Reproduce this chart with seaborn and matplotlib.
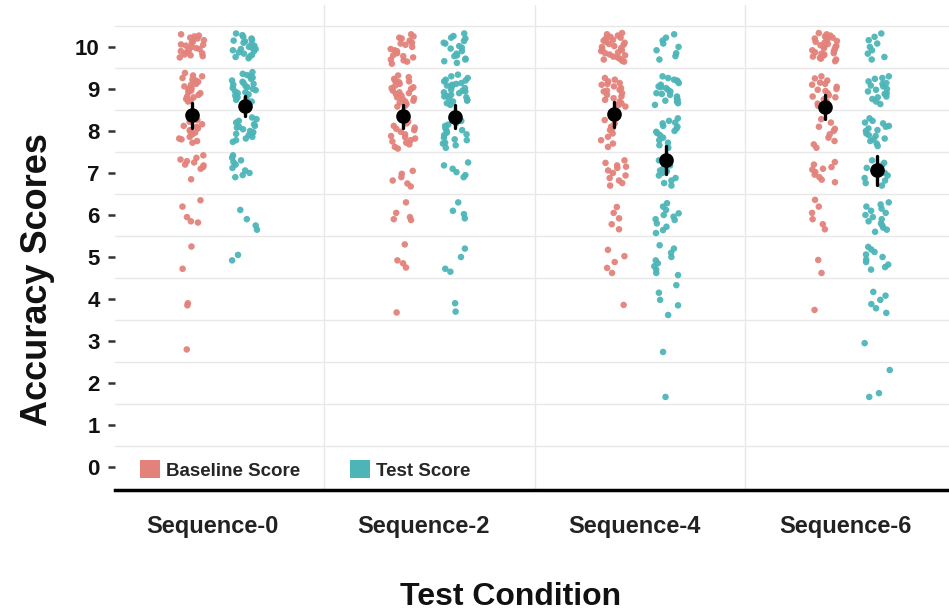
import numpy as np
import pandas as pd
import seaborn as sns
import matplotlib.pyplot as plt
from matplotlib.patches import Patch

conditions = ["Sequence-0", "Sequence-2", "Sequence-4", "Sequence-6"]
groups = ["Baseline Score", "Test Score"]
group_colors = ["#E3827B", "#4DB5B8"]
y_ticks = [0, 1, 2, 3, 4, 5, 6, 7, 8, 9, 10]

# accuracy scores per participant, one list per condition and score type
seq0_baseline = [10.3, 10.27, 10.22, 10.2, 10.16, 10.12, 10.1, 10.06, 10.03, 10.0, 9.97, 9.95,
                 9.92, 9.9, 9.87, 9.85, 9.82, 9.8, 9.78, 9.75, 10.25, 10.05,
                 9.38, 9.32, 9.3, 9.26, 9.22, 9.17, 9.12, 9.1, 9.06, 9.02, 9.0, 8.96, 8.92, 8.9,
                 8.86, 8.82, 8.8, 8.76, 8.72, 8.7, 9.2, 8.95,
                 8.32, 8.26, 8.22, 8.16, 8.12, 8.06, 8.02, 8.0, 7.96, 7.92, 7.86, 7.82, 7.8, 7.76,
                 7.72, 8.1,
                 7.42, 7.36, 7.32, 7.28, 7.25, 7.2, 7.18, 7.14, 7.1, 6.85,
                 6.35, 6.2, 5.95, 5.85, 5.82,
                 5.25, 4.72, 3.9, 3.85, 2.8]
seq0_test = [10.32, 10.28, 10.24, 10.2, 10.17, 10.13, 10.1, 10.07, 10.03, 10.0, 9.98, 9.95,
             9.92, 9.9, 9.87, 9.84, 9.81, 9.78, 9.76, 9.73, 10.15, 9.95,
             9.4, 9.36, 9.33, 9.3, 9.27, 9.24, 9.2, 9.17, 9.14, 9.1, 9.07, 9.04, 9.0, 8.97,
             8.94, 8.9, 8.87, 8.84, 8.8, 8.77, 8.74, 8.7, 9.12, 9.02, 8.92,
             8.32, 8.28, 8.24, 8.2, 8.16, 8.12, 8.08, 8.04, 8.0, 7.97, 7.93, 7.9, 7.86, 7.82,
             7.78, 7.74, 8.1, 7.95,
             7.42, 7.36, 7.3, 7.26, 7.2, 7.12, 7.06, 7.0, 6.95, 6.9,
             6.12, 5.9, 5.75, 5.65, 5.05, 4.92]
seq2_baseline = [10.3, 10.25, 10.2, 10.15, 10.1, 10.05, 10.0, 9.95, 9.9, 9.85, 9.8, 9.75,
                 9.7, 9.65, 9.6, 10.22, 10.08, 9.92, 9.78, 9.68,
                 9.32, 9.28, 9.24, 9.2, 9.16, 9.12, 9.08, 9.04, 9.0, 8.96, 8.92, 8.88, 8.84,
                 8.8, 8.76, 8.72, 8.68, 8.64, 8.6, 9.18, 9.02, 8.9, 8.78, 8.7, 8.58,
                 8.28, 8.22, 8.18, 8.12, 8.08, 8.02, 7.98, 7.92, 7.88, 7.82, 7.78, 7.72, 7.68,
                 7.62, 7.58, 8.05, 7.85, 7.75,
                 7.05, 6.98, 6.9, 6.82, 6.75, 6.68,
                 6.3, 6.05, 5.95, 5.9, 5.88,
                 5.3, 4.92, 4.85, 4.75, 3.68]
seq2_test = [10.32, 10.26, 10.2, 10.14, 10.08, 10.02, 9.96, 9.9, 9.84, 9.78, 9.72, 9.66,
             9.62, 10.22, 10.1, 9.98, 9.8, 9.7,
             9.34, 9.3, 9.26, 9.22, 9.18, 9.14, 9.1, 9.06, 9.02, 8.98, 8.94, 8.9, 8.86,
             8.82, 8.78, 8.74, 8.7, 8.66, 8.62, 9.2, 9.08, 8.96, 8.84, 8.72, 9.12, 8.92, 8.8,
             8.3, 8.24, 8.18, 8.12, 8.06, 8.0, 7.96, 7.9, 7.84, 7.78, 7.72, 7.66, 7.6,
             8.15, 8.02, 7.92, 7.8, 7.7,
             7.25, 7.18, 7.1, 7.02, 6.95, 6.9,
             6.3, 6.1, 6.02, 5.92,
             5.2, 5.0, 4.72, 4.65,
             3.9, 3.7]
seq4_baseline = [10.33, 10.3, 10.27, 10.24, 10.22, 10.2, 10.17, 10.15, 10.12, 10.1, 10.07,
                 10.05, 10.02, 10.0, 9.97, 9.95, 9.92, 9.9, 9.87, 9.85, 9.82, 9.8, 9.77,
                 9.75, 9.72, 9.7, 9.67, 9.65,
                 9.26, 9.22, 9.18, 9.14, 9.1, 9.06, 9.02, 8.98, 8.94, 8.9, 8.86, 8.82, 8.78,
                 8.74, 8.7, 8.66, 8.62, 8.58, 9.12, 8.96,
                 8.26, 8.18, 8.1, 8.02, 7.94, 7.86, 7.78, 7.7, 7.62, 8.06,
                 7.3, 7.24, 7.18, 7.12, 7.06, 7.0, 6.94, 6.88, 6.82, 6.76, 6.7, 7.15,
                 6.19, 6.05, 5.92, 5.78, 5.66,
                 5.17, 5.02, 4.88, 4.74, 4.62,
                 3.86]
seq4_test = [10.3, 10.22, 10.15, 10.08, 10.0, 9.92, 9.85, 9.78, 9.7,
             9.3, 9.26, 9.22, 9.18, 9.14, 9.1, 9.06, 9.02, 8.98, 8.94, 8.9, 8.86, 8.82,
             8.78, 8.74, 8.7, 8.66, 8.62, 9.2, 9.04, 8.88, 8.72,
             8.3, 8.24, 8.18, 8.12, 8.06, 8.0, 7.95, 7.9, 7.84, 7.78, 7.72, 7.66, 7.6, 8.1,
             8.2, 7.98,
             7.3, 7.24, 7.18, 7.12, 7.06, 7.0, 6.94, 6.88, 6.82, 6.76, 6.7, 7.04,
             6.28, 6.2, 6.12, 6.04, 5.96, 5.88, 5.8, 5.72, 5.64, 5.57, 6.0, 5.9,
             5.28, 5.2, 5.1, 5.0, 4.92, 4.85, 4.78, 4.7, 4.62, 4.57,
             4.33, 4.15, 3.98, 3.85, 3.62,
             2.74, 1.67]
seq6_baseline = [10.33, 10.3, 10.27, 10.25, 10.22, 10.2, 10.17, 10.14, 10.12, 10.1, 10.07,
                 10.04, 10.02, 10.0, 9.97, 9.94, 9.92, 9.9, 9.87, 9.84, 9.82, 9.8, 9.77,
                 9.74, 9.72, 9.7, 9.66, 10.18, 10.0, 9.85,
                 9.3, 9.25, 9.2, 9.15, 9.1, 9.05, 9.0, 8.95, 8.9, 8.85, 8.8, 8.75, 8.7,
                 8.65, 8.6, 9.12, 8.98, 8.82,
                 8.28, 8.2, 8.1, 8.0, 7.92, 7.84, 7.76, 7.68, 7.6, 8.05,
                 7.26, 7.2, 7.14, 7.08, 7.02, 6.96, 6.9, 6.84, 6.78, 7.1,
                 6.36, 6.2, 6.05, 5.9, 5.78, 5.66,
                 4.93, 4.62,
                 3.74]
seq6_test = [10.32, 10.24, 10.16, 10.08, 10.0, 9.92, 9.84, 9.76, 9.7,
             9.3, 9.24, 9.18, 9.12, 9.06, 9.0, 8.94, 8.88, 8.82, 8.76, 8.7, 8.64, 9.08, 8.9,
             9.26, 9.14, 8.98, 8.8,
             8.3, 8.24, 8.18, 8.12, 8.06, 8.0, 7.94, 7.88, 7.82, 7.76, 7.7, 7.64, 8.1, 7.9,
             8.2, 8.02, 7.8,
             7.3, 7.24, 7.18, 7.12, 7.06, 7.0, 6.94, 6.88, 6.82, 6.76, 6.7, 7.08,
             6.3, 6.25, 6.2, 6.15, 6.1, 6.05, 6.0, 5.95, 5.9, 5.85, 5.8, 5.75, 5.7, 5.65, 5.6,
             5.24, 5.18, 5.12, 5.06, 5.0, 4.94, 4.88, 4.82, 4.76, 4.7,
             4.17, 4.08, 3.98, 3.88, 3.78, 3.67,
             2.95, 2.31, 1.76, 1.67]

scores = {
    ("Sequence-0", "Baseline Score"): seq0_baseline,
    ("Sequence-0", "Test Score"): seq0_test,
    ("Sequence-2", "Baseline Score"): seq2_baseline,
    ("Sequence-2", "Test Score"): seq2_test,
    ("Sequence-4", "Baseline Score"): seq4_baseline,
    ("Sequence-4", "Test Score"): seq4_test,
    ("Sequence-6", "Baseline Score"): seq6_baseline,
    ("Sequence-6", "Test Score"): seq6_test,
}

# side-by-side placement of the two score types within each condition
group_shift = {"Baseline Score": -0.1, "Test Score": 0.15}

rows = []
for ci, cond in enumerate(conditions):
    for g in groups:
        for v in scores[(cond, g)]:
            rows.append({"condition": cond, "group": g,
                         "pos": ci + group_shift[g], "score": v})
df = pd.DataFrame(rows)

sns.set_theme(style="white")
plt.rcParams["font.family"] = ["Liberation Sans", "DejaVu Sans"]

fig = plt.figure(figsize=(9.49, 6.12), dpi=100)
ax = fig.add_axes([0.121, 0.199, 0.879, 0.793])

np.random.seed(7)
sns.stripplot(data=df, x="pos", y="score", hue="group", hue_order=groups,
              palette=group_colors, native_scale=True, jitter=0.24, size=4.7,
              linewidth=0, alpha=0.95, legend=False, zorder=2, ax=ax)

sns.pointplot(data=df, x="pos", y="score", native_scale=True, color="black",
              errorbar=("se", 1.6), marker="o", markersize=8.5,
              linestyle="none", err_kws={"linewidth": 2.4}, ax=ax)
for line in ax.lines:
    line.set_zorder(5)

ax.set_xlim(-0.465, 3.49)
ax.set_ylim(-0.55, 11.0)
ax.set_yticks(y_ticks)
ax.set_yticklabels([str(t) for t in y_ticks], fontweight="bold")
ax.set_xticks(range(len(conditions)))
ax.set_xticklabels(conditions)

# light grid between the integer scores and between conditions
ax.set_yticks(np.arange(0.5, 11.0, 1.0), minor=True)
ax.set_xticks([0.525, 1.525, 2.525], minor=True)
ax.grid(False, which="major")
ax.grid(True, which="minor", color="#E8E8E8", linewidth=1.0)
ax.tick_params(axis="both", which="minor", length=0)
ax.set_axisbelow(True)

for side in ["left", "right", "top"]:
    ax.spines[side].set_visible(False)
ax.spines["bottom"].set_color("black")
ax.spines["bottom"].set_linewidth(2.5)

ax.tick_params(axis="y", which="major", left=True, length=5, width=1.8,
               color="#333333", pad=6, labelsize=16, labelcolor="#111111")
ax.tick_params(axis="x", which="major", bottom=False, length=0, pad=18,
               labelsize=17, labelcolor="#222222")
for lab in ax.get_xticklabels():
    lab.set_fontweight("semibold")

ax.set_xlabel("")
ax.set_ylabel("")
fig.text(38 / 949, 1 - 280 / 612, "Accuracy Scores", rotation=90, ha="center",
         va="center", fontsize=26, fontweight="bold", color="#111111")
fig.text(511 / 949, 1 - 597 / 612, "Test Condition", ha="center", va="center",
         fontsize=23, fontweight="bold", color="#111111")

handles = [Patch(facecolor=c, edgecolor="none", label=g)
           for g, c in zip(groups, group_colors)]
leg = ax.legend(handles=handles, loc="lower left", bbox_to_anchor=(0.03, 0.022),
                ncol=2, frameon=False, borderpad=0, borderaxespad=0,
                handlelength=1.07, handleheight=1.07,
                handletextpad=0.3, columnspacing=2.7,
                prop={"weight": "bold", "size": 13.5})

fig.savefig("out.png", dpi=100)
